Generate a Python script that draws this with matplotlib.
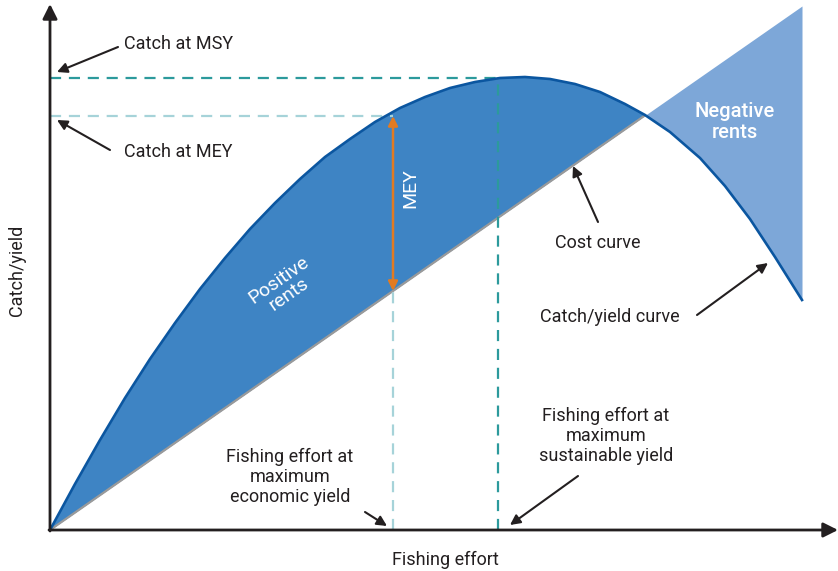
import numpy as np
import matplotlib.pyplot as plt

plt.rcParams['font.family'] = ['Roboto', 'DejaVu Sans']

# catch/yield curve (effort, catch)
effort = [0, 25, 50, 75, 100, 125, 150, 175, 200, 225, 250, 275, 300, 325,
          350, 375, 400, 425, 450, 475, 500, 525, 550, 575, 595, 620, 650,
          675, 700, 725, 752]
catch = [0, 46, 90, 132, 171, 207, 241, 272, 301, 327, 351, 373, 391, 408,
         422, 433, 442, 448, 452, 453, 451, 446, 438, 426, 415, 398, 372,
         344, 311, 273, 230]

# cost line end points
cost_x = [0, 752]
cost_y = [0, 524]

# reference levels
e_msy, c_msy = 448, 452
e_mey, c_mey = 343, 414

dark = '#231F20'
fig = plt.figure(figsize=(8.38, 5.71), dpi=100)
ax = fig.add_axes([0, 0, 1, 1])
ax.set_xlim(-50, 788)
ax.set_ylim(-41, 530)
ax.axis('off')

effort = np.array(effort, float)
catch = np.array(catch, float)
cost = np.interp(effort, cost_x, cost_y)
pos = catch >= cost

# rents
ax.fill_between(effort, cost, catch, where=pos, interpolate=True,
                color='#3E84C4', lw=0, zorder=1)
ax.fill_between(effort, cost, catch, where=~pos | (effort == 595), interpolate=True,
                color='#7DA7D8', lw=0, zorder=1)
# cost line only drawn under the positive rents
ax.plot(effort[pos], cost[pos], color='#9A9A9A', lw=1.6, zorder=2)
ax.plot(effort, catch, color='#0B56A0', lw=1.9, zorder=3)

# dashed guide lines
dash = dict(lw=1.6, dashes=(5, 3.5), zorder=2)
ax.plot([0, e_msy], [c_msy, c_msy], color='#2C9A9C', **dash)
ax.plot([e_msy, e_msy], [0, c_msy], color='#2C9A9C', **dash)
ax.plot([0, e_mey], [c_mey, c_mey], color='#A6D3D9', **dash)
ax.plot([e_mey, e_mey], [0, np.interp(e_mey, cost_x, cost_y)],
        color='#A6D3D9', **dash)

# MEY double arrow
ax.annotate('', xy=(e_mey, c_mey), xytext=(e_mey, np.interp(e_mey, cost_x, cost_y)),
            arrowprops=dict(arrowstyle='<|-|>', color='#E27B22', lw=1.8,
                            mutation_scale=14, shrinkA=0, shrinkB=0), zorder=4)
ax.text(e_mey + 17, 342, 'MEY', rotation=90, color='white', fontsize=14,
        ha='center', va='center')

# axes with arrows
ax.annotate('', xy=(788, 0), xytext=(-1, 0),
            arrowprops=dict(arrowstyle='-|>', color=dark, lw=2,
                            mutation_scale=22, shrinkA=0, shrinkB=0), zorder=5)
ax.annotate('', xy=(0, 526), xytext=(0, -1),
            arrowprops=dict(arrowstyle='-|>', color=dark, lw=2,
                            mutation_scale=22, shrinkA=0, shrinkB=0), zorder=5)

tk = dict(fontsize=13, color=dark, linespacing=1.15)
ax.text(395, -30, 'Fishing effort', ha='center', va='center', **tk)
ax.text(-33, 260, 'Catch/yield', ha='center', va='center', rotation=90, **tk)

# region labels
ax.text(234, 243, 'Positive\nrents', rotation=35, color='white', fontsize=14,
        ha='center', va='center', linespacing=1.0)
ax.text(685, 408, 'Negative\nrents', color='white', fontsize=14.5,
        ha='center', va='center', linespacing=1.1, fontweight='medium')

# callouts
arr = dict(arrowstyle='-|>', color=dark, lw=1.5, mutation_scale=15,
           shrinkA=0, shrinkB=0)
ax.annotate('', xy=(7, 458), xytext=(68, 483), arrowprops=arr)
ax.text(74, 486, 'Catch at MSY', ha='left', va='center', **tk)
ax.annotate('', xy=(7, 410), xytext=(60, 380), arrowprops=arr)
ax.text(74, 378, 'Catch at MEY', ha='left', va='center', **tk)

ax.annotate('', xy=(523, 364), xytext=(548, 308), arrowprops=arr)
ax.text(548, 287, 'Cost curve', ha='center', va='center', **tk)

ax.annotate('', xy=(718, 267), xytext=(647, 215), arrowprops=arr)
ax.text(560, 213, 'Catch/yield curve', ha='center', va='center', **tk)

ax.text(240, 53, 'Fishing effort at\nmaximum\neconomic yield',
        ha='center', va='center', **tk)
ax.annotate('', xy=(337, 4), xytext=(315, 18), arrowprops=arr)

ax.text(556, 94, 'Fishing effort at\nmaximum\nsustainable yield',
        ha='center', va='center', **tk)
ax.annotate('', xy=(460, 5), xytext=(528, 54), arrowprops=arr)

fig.savefig('out.png', dpi=100)
